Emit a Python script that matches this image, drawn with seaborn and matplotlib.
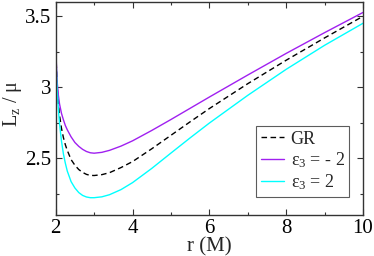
import matplotlib
matplotlib.use('Agg')
import matplotlib.pyplot as plt
import seaborn as sns
from matplotlib.ticker import MultipleLocator, FormatStrFormatter

# valores
r = [2.0, 2.02, 2.04, 2.07, 2.1, 2.15, 2.2, 2.25, 2.3, 2.4, 2.5, 2.6, 2.7, 2.8,
     2.9, 3.0, 3.2, 3.4, 3.7, 4.0, 4.5, 5.0, 5.5, 6.0, 7.0, 8.0, 9.0, 10.0]
lz_gr = [3.30, 3.12, 3.00, 2.88, 2.80, 2.71, 2.645, 2.595, 2.555, 2.49, 2.45, 2.42, 2.40, 2.386,
         2.379, 2.378, 2.384, 2.398, 2.434, 2.476, 2.566, 2.661, 2.756, 2.849, 3.024, 3.189, 3.346, 3.498]
lz_menos2 = [3.30, 3.14, 3.03, 2.94, 2.88, 2.815, 2.77, 2.73, 2.70, 2.65, 2.61, 2.583, 2.562, 2.547,
             2.538, 2.535, 2.541, 2.555, 2.585, 2.622, 2.695, 2.772, 2.851, 2.930, 3.085, 3.237, 3.383, 3.525]
lz_mais2 = [3.29, 3.10, 2.97, 2.84, 2.74, 2.62, 2.53, 2.465, 2.41, 2.335, 2.29, 2.258, 2.238, 2.227,
            2.222, 2.222, 2.228, 2.243, 2.279, 2.328, 2.428, 2.536, 2.643, 2.747, 2.942, 3.125, 3.294, 3.449]

sns.set_style('ticks')
plt.rcParams['font.family'] = ['Liberation Serif', 'DejaVu Serif']
plt.rcParams['mathtext.fontset'] = 'custom'
plt.rcParams['mathtext.rm'] = 'Liberation Serif'

fig, ax = plt.subplots(figsize=(3.74, 2.56), dpi=100)
fig.subplots_adjust(left=0.149, right=0.9706, bottom=0.160, top=0.993)

sns.lineplot(x=r, y=lz_gr, ax=ax, color='black', lw=1.0, label='GR')
ax.lines[-1].set_dashes([4, 2.5])
sns.lineplot(x=r, y=lz_menos2, ax=ax, color='#a020f0', lw=1.0, label=r'$\mathregular{ε_3}$ = - 2')
sns.lineplot(x=r, y=lz_mais2, ax=ax, color='#00ffff', lw=1.0, label=r'$\mathregular{ε_3}$ = 2')

ax.set_xlim(2, 10)
ax.set_ylim(2.1, 3.6)
ax.xaxis.set_major_locator(MultipleLocator(2))
ax.xaxis.set_minor_locator(MultipleLocator(1))
ax.yaxis.set_major_locator(MultipleLocator(0.5))
ax.yaxis.set_minor_locator(MultipleLocator(0.25))
ax.yaxis.set_major_formatter(FormatStrFormatter('%g'))
ax.tick_params(which='both', direction='in', top=True, right=True, labelsize=15, colors='#333333',
               labelcolor='black', pad=3)
ax.tick_params(which='major', length=4, width=0.8)
ax.tick_params(which='minor', length=2.5, width=0.8)
for s in ax.spines.values():
    s.set_linewidth(1.0)
    s.set_color('#333333')

ax.set_xlabel('r (M)', fontsize=15)
ax.xaxis.set_label_coords(0.5, -0.105)
ax.set_ylabel(r'L$_\mathregular{z}$ / μ', fontsize=14.5)
ax.yaxis.set_label_coords(-0.104, 0.525)

leg = ax.legend(loc='lower right', bbox_to_anchor=(0.955, 0.085), fontsize=13, frameon=True, fancybox=False,
                handlelength=1.3, handletextpad=0.35, borderpad=0.25, labelspacing=0.15, borderaxespad=0)
leg.get_frame().set_edgecolor('#333333')
leg.get_frame().set_linewidth(0.8)

plt.savefig('out.png', dpi=100)
